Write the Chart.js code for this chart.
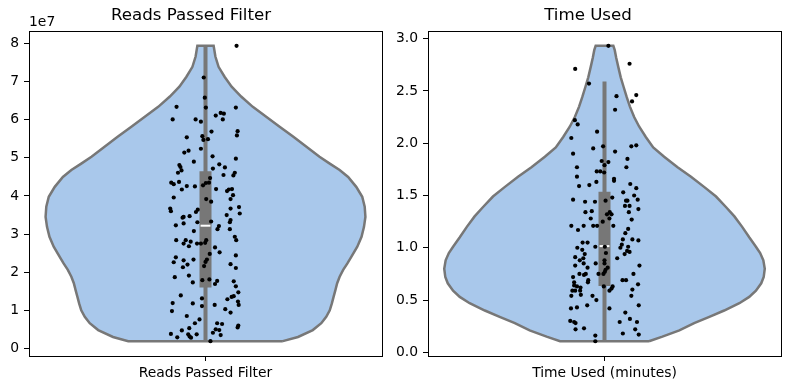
<!DOCTYPE html>
<html>
<head>
<meta charset="utf-8">
<script src="https://cdn.jsdelivr.net/npm/chart.js@4.4.0/dist/chart.umd.min.js"></script>
<style>
  html, body { margin: 0; padding: 0; background: #fff; }
  #wrap { position: relative; width: 789px; height: 390px; }
  canvas { position: absolute; top: 0; }
</style>
</head>
<body>
<div id="wrap">
  <canvas id="reads" width="395" height="390" style="left:0"></canvas>
  <canvas id="time" width="394" height="390" style="left:395px"></canvas>
</div>
<script>
/* Two violin plots (seaborn style): kde outline, inner box, jittered strip points. */

// --- Reads Passed Filter (values in units of 1e7) ---
const readsTitle = 'Reads Passed Filter';
const readsCategory = 'Reads Passed Filter';
const readsTicks = [0, 1, 2, 3, 4, 5, 6, 7, 8];
const readsTickLabels = ['0', '1', '2', '3', '4', '5', '6', '7', '8'];
const readsLevels = [0.19, 0.30, 0.48, 0.66, 0.83, 1.00, 1.18, 1.36, 1.53, 1.71, 1.88, 2.06, 2.23, 2.40, 2.67, 2.93, 3.19, 3.45, 3.72, 3.98, 4.24, 4.50, 4.68, 4.85, 5.03, 5.29, 5.56, 5.82, 6.08, 6.34, 6.61, 6.87, 7.13, 7.39, 7.66, 7.83, 7.94];
const readsDensity = [0.219, 0.262, 0.304, 0.328, 0.342, 0.352, 0.358, 0.363, 0.368, 0.373, 0.380, 0.390, 0.402, 0.413, 0.430, 0.442, 0.449, 0.453, 0.451, 0.444, 0.427, 0.404, 0.380, 0.352, 0.323, 0.286, 0.248, 0.210, 0.172, 0.134, 0.101, 0.074, 0.054, 0.037, 0.028, 0.025, 0.023];
// whisker low, q1, median, q3, whisker high
const readsBox = [0.19, 1.60, 3.22, 4.65, 7.94];
const readsE7 = [7.94, 7.11, 6.58, 6.32, 6.34, 6.32, 6.01, 6.01, 5.95, 6.11,
  6.18, 6.16, 6.01, 5.69, 5.70, 5.59, 5.54, 5.57, 5.47, 5.49,
  5.24, 5.19, 5.14, 5.04, 4.98, 4.90, 4.81, 4.76, 4.83, 4.75,
  4.67, 4.61, 4.72, 4.61, 4.54, 4.55, 4.47, 4.35, 4.35, 4.31,
  4.37, 4.26, 4.25, 4.28, 4.34, 4.18, 4.17, 4.13, 4.17, 4.18,
  4.02, 3.96, 3.92, 3.85, 3.92, 3.71, 3.67, 3.60, 3.64, 3.58,
  3.54, 3.67, 3.50, 3.45, 3.43, 3.47, 3.31, 3.33, 3.37, 3.31,
  3.28, 3.23, 3.21, 3.13, 3.13, 3.08, 2.93, 2.84, 2.84, 2.84,
  2.75, 2.80, 2.68, 2.75, 2.75, 2.84, 2.77, 2.65, 2.52, 2.44,
  2.39, 2.26, 2.31, 2.33, 2.33, 2.48, 2.20, 2.13, 2.21, 2.11,
  2.16, 2.27, 1.91, 1.87, 1.79, 1.81, 1.77, 1.73, 1.69, 1.76,
  1.63, 1.47, 1.39, 1.37, 1.35, 1.31, 1.29, 1.23, 1.14, 1.19,
  1.18, 1.11, 1.14, 1.03, 0.94, 0.98, 0.85, 0.76, 0.66, 0.66,
  0.64, 0.60, 0.55, 0.53, 0.47, 0.50, 0.48, 0.41, 0.38, 0.37,
  0.37, 0.35, 0.29, 0.31, 0.28, 0.19];
const readsJitter = [0.088, -0.005, -0.002, 0.001, -0.082, 0.086, -0.093, -0.028, -0.013, 0.029,
  0.043, 0.052, 0.049, 0.017, 0.091, 0.089, -0.053, -0.009, -0.006, 0.007,
  -0.013, -0.048, -0.060, 0.020, 0.086, -0.033, -0.074, -0.071, 0.039, 0.055,
  -0.068, -0.078, 0.021, 0.083, 0.079, 0.051, 0.013, 0.010, -0.097, -0.090,
  -0.075, -0.053, -0.030, -0.007, 0.001, 0.030, -0.067, 0.061, 0.066, 0.075,
  0.078, -0.090, 0.002, 0.016, 0.071, 0.095, -0.100, -0.098, -0.022, -0.027,
  0.097, 0.071, 0.060, -0.062, -0.065, -0.045, -0.023, 0.016, 0.071, 0.069,
  -0.062, -0.084, 0.038, 0.034, 0.069, -0.033, 0.083, 0.087, -0.083, -0.056,
  -0.062, -0.042, -0.047, -0.024, -0.013, 0.002, -0.001, 0.027, 0.040, 0.086,
  -0.084, -0.090, -0.062, -0.034, 0.004, 0.012, -0.051, -0.064, 0.071, 0.086,
  -0.004, 0.000, -0.047, -0.087, -0.009, 0.011, 0.033, -0.036, 0.027, 0.080,
  0.086, 0.093, -0.070, 0.080, 0.074, -0.010, 0.062, 0.092, 0.094, -0.093,
  -0.036, -0.010, 0.026, 0.056, 0.071, -0.095, -0.053, -0.017, -0.030, 0.033,
  0.047, 0.093, 0.091, -0.046, -0.067, 0.029, 0.039, 0.021, -0.098, -0.049,
  -0.025, 0.043, -0.080, -0.045, -0.041, 0.014];

// --- Time Used (minutes) ---
const timeTitle = 'Time Used';
const timeCategory = 'Time Used (minutes)';
const timeTicks = [0, 0.5, 1, 1.5, 2, 2.5, 3];
const timeTickLabels = ['0.0', '0.5', '1.0', '1.5', '2.0', '2.5', '3.0'];
const timeLevels = [0.106, 0.15, 0.21, 0.28, 0.34, 0.40, 0.47, 0.53, 0.59, 0.66, 0.72, 0.80, 0.88, 0.95, 1.01, 1.10, 1.20, 1.30, 1.39, 1.49, 1.58, 1.68, 1.77, 1.87, 1.96, 2.06, 2.16, 2.25, 2.35, 2.44, 2.54, 2.63, 2.73, 2.82, 2.89, 2.931];
const timeDensity = [0.126, 0.164, 0.212, 0.254, 0.297, 0.339, 0.382, 0.410, 0.429, 0.444, 0.451, 0.454, 0.450, 0.441, 0.429, 0.410, 0.390, 0.368, 0.344, 0.316, 0.283, 0.245, 0.207, 0.169, 0.138, 0.117, 0.098, 0.084, 0.072, 0.063, 0.054, 0.046, 0.039, 0.033, 0.029, 0.025];
const timeBox = [0.106, 0.634, 1.016, 1.535, 2.59];
const timeMinutes = [2.931, 2.71, 2.76, 2.57, 2.45, 2.46, 2.40, 2.32, 2.22, 2.18,
  2.11, 2.05, 1.95, 1.97, 1.97, 1.98, 1.90, 1.92, 1.85, 1.83,
  1.82, 1.79, 1.77, 1.77, 1.73, 1.73, 1.72, 1.68, 1.66, 1.64,
  1.63, 1.61, 1.59, 1.60, 1.57, 1.53, 1.50, 1.48, 1.46, 1.46,
  1.45, 1.45, 1.45, 1.44, 1.44, 1.40, 1.40, 1.37, 1.35, 1.34,
  1.34, 1.34, 1.32, 1.32, 1.28, 1.28, 1.27, 1.25, 1.21, 1.21,
  1.21, 1.21, 1.21, 1.18, 1.17, 1.14, 1.08, 1.07, 1.08, 1.05,
  1.05, 1.03, 1.00, 1.01, 1.00, 0.98, 1.01, 1.01, 0.95, 0.97,
  0.96, 0.94, 0.91, 0.94, 0.90, 0.90, 0.88, 0.88, 0.85, 0.85,
  0.85, 0.83, 0.81, 0.83, 0.81, 0.79, 0.75, 0.75, 0.74, 0.75,
  0.75, 0.77, 0.75, 0.72, 0.69, 0.67, 0.69, 0.69, 0.67, 0.64,
  0.63, 0.65, 0.63, 0.63, 0.62, 0.61, 0.59, 0.60, 0.59, 0.59,
  0.59, 0.54, 0.55, 0.54, 0.54, 0.50, 0.45, 0.45, 0.43, 0.42,
  0.42, 0.38, 0.30, 0.29, 0.28, 0.29, 0.32, 0.29, 0.23, 0.22,
  0.22, 0.18, 0.17, 0.16, 0.106];
const timeJitter = [0.011, -0.083, 0.071, -0.044, 0.034, 0.090, 0.078, 0.030, -0.084, -0.076,
  -0.021, -0.094, -0.032, -0.004, 0.076, 0.090, -0.089, 0.030, 0.065, -0.008,
  0.011, 0.000, -0.078, 0.062, -0.022, -0.012, -0.001, -0.078, 0.027, 0.027,
  -0.023, 0.073, -0.072, -0.043, 0.090, 0.053, 0.084, 0.022, -0.089, 0.094,
  0.061, 0.065, 0.003, -0.055, -0.027, 0.058, 0.071, 0.096, -0.036, -0.054,
  0.069, 0.015, 0.020, 0.007, -0.039, 0.014, 0.077, -0.005, -0.094, -0.059,
  -0.032, -0.021, 0.025, 0.067, -0.075, 0.059, 0.079, 0.096, 0.052, -0.062,
  -0.048, 0.049, 0.045, 0.067, -0.077, -0.063, -0.026, 0.001, 0.004, 0.064,
  0.071, 0.057, -0.083, -0.056, -0.060, 0.036, -0.070, 0.000, 0.000, -0.025,
  -0.059, -0.083, -0.048, 0.099, 0.009, 0.003, -0.071, -0.053, -0.058, -0.017,
  -0.003, 0.001, 0.082, -0.089, -0.046, -0.047, 0.051, 0.061, -0.086, -0.086,
  -0.078, 0.095, -0.002, 0.023, -0.068, 0.020, -0.069, 0.079, -0.083, -0.091,
  0.014, -0.094, -0.067, -0.034, 0.076, -0.023, -0.049, 0.097, -0.078, -0.095,
  0.014, 0.059, -0.097, -0.086, -0.082, 0.043, 0.072, 0.092, -0.058, -0.082,
  0.087, 0.052, 0.097, -0.026, -0.026];

const violinFill = '#a9c8eb';
const gray = '#777777';

Chart.defaults.font.family = '"DejaVu Sans", sans-serif';
Chart.defaults.font.size = 13.9;
Chart.defaults.color = '#000';

// frame around the plot area + matplotlib style offset text ("1e7")
const framePlugin = {
  id: 'frame',
  afterDraw(chart, args, opts) {
    const { ctx, chartArea: a } = chart;
    ctx.save();
    ctx.strokeStyle = '#000';
    ctx.lineWidth = 1;
    ctx.strokeRect(a.left + 0.5, a.top + 0.5, a.right - a.left, a.bottom - a.top);
    if (opts.offsetText) {
      ctx.font = '13.9px "DejaVu Sans"';
      ctx.fillStyle = '#000';
      ctx.textAlign = 'left';
      ctx.textBaseline = 'alphabetic';
      ctx.fillText(opts.offsetText, a.left, a.top - 5);
    }
    ctx.restore();
  }
};

// closed outline: right side bottom->top, then left side top->bottom
function violinOutline(levels, density) {
  const pts = [];
  for (let i = 0; i < levels.length; i++) pts.push({ x: density[i], y: levels[i] });
  for (let i = levels.length - 1; i >= 0; i--) pts.push({ x: -density[i], y: levels[i] });
  pts.push({ x: density[0], y: levels[0] });
  return pts;
}

function drawViolin(canvasId, cfg) {
  const ctx = document.getElementById(canvasId).getContext('2d');
  const points = cfg.values.map((v, i) => ({ x: cfg.jitter[i], y: v }));
  const b = cfg.box;
  const axisGrid = { drawOnChartArea: false, drawTicks: true, tickLength: 5, color: '#000', lineWidth: 1 };
  const axisBorder = { display: true, color: '#000', width: 1 };

  return new Chart(ctx, {
    type: 'scatter',
    data: {
      datasets: [
        { type: 'scatter', data: points, backgroundColor: '#000', borderWidth: 0, pointRadius: 2.1, order: 0 },
        { type: 'line', data: [{ x: -0.014, y: b[2] }, { x: 0.014, y: b[2] }], borderColor: '#fff',
          borderWidth: 2, borderCapStyle: 'butt', pointRadius: 0, fill: false, order: 1 },
        { type: 'line', data: [{ x: 0, y: b[1] }, { x: 0, y: b[3] }], borderColor: gray,
          borderWidth: 12, borderCapStyle: 'butt', pointRadius: 0, fill: false, order: 2 },
        { type: 'line', data: [{ x: 0, y: b[0] }, { x: 0, y: b[4] }], borderColor: gray,
          borderWidth: 4, borderCapStyle: 'butt', pointRadius: 0, fill: false, order: 3 },
        { type: 'line', data: violinOutline(cfg.levels, cfg.density), borderColor: gray, borderWidth: 2.5,
          backgroundColor: cfg.fill, fill: 'shape', tension: 0, pointRadius: 0, order: 4 }
      ]
    },
    options: {
      responsive: false,
      animation: false,
      devicePixelRatio: 1,
      events: [],
      layout: { padding: { left: 0, right: cfg.rightPad, top: 0, bottom: 0 } },
      plugins: {
        legend: { display: false },
        tooltip: { enabled: false },
        title: {
          display: true, text: cfg.title, color: '#000',
          font: { size: 16.67, weight: 'normal' },
          padding: { top: 6, bottom: 5 }
        },
        frame: { offsetText: cfg.offsetText }
      },
      scales: {
        x: {
          type: 'linear', min: -0.5, max: 0.5,
          afterBuildTicks: s => { s.ticks = [{ value: 0 }]; },
          afterFit: s => { s.height = 34; },
          ticks: { callback: () => cfg.category, padding: 4, maxRotation: 0, autoSkip: false, color: '#000' },
          grid: axisGrid,
          border: axisBorder
        },
        y: {
          type: 'linear', min: cfg.yMin, max: cfg.yMax,
          afterBuildTicks: s => { s.ticks = cfg.ticks.map(v => ({ value: v })); },
          afterFit: s => { s.width = cfg.yWidth; },
          ticks: { callback: (v, i) => cfg.tickLabels[i], padding: 5, autoSkip: false, color: '#000' },
          grid: axisGrid,
          border: axisBorder
        }
      }
    },
    plugins: [framePlugin]
  });
}

drawViolin('reads', {
  title: readsTitle, category: readsCategory,
  values: readsE7, jitter: readsJitter, box: readsBox,
  levels: readsLevels, density: readsDensity,
  ticks: readsTicks, tickLabels: readsTickLabels,
  yMin: -0.20, yMax: 8.33, yWidth: 29, rightPad: 13,
  fill: violinFill, offsetText: '1e7'
});

drawViolin('time', {
  title: timeTitle, category: timeCategory,
  values: timeMinutes, jitter: timeJitter, box: timeBox,
  levels: timeLevels, density: timeDensity,
  ticks: timeTicks, tickLabels: timeTickLabels,
  yMin: -0.035, yMax: 3.073, yWidth: 33, rightPad: 8,
  fill: violinFill, offsetText: ''
});
</script>
</body>
</html>
